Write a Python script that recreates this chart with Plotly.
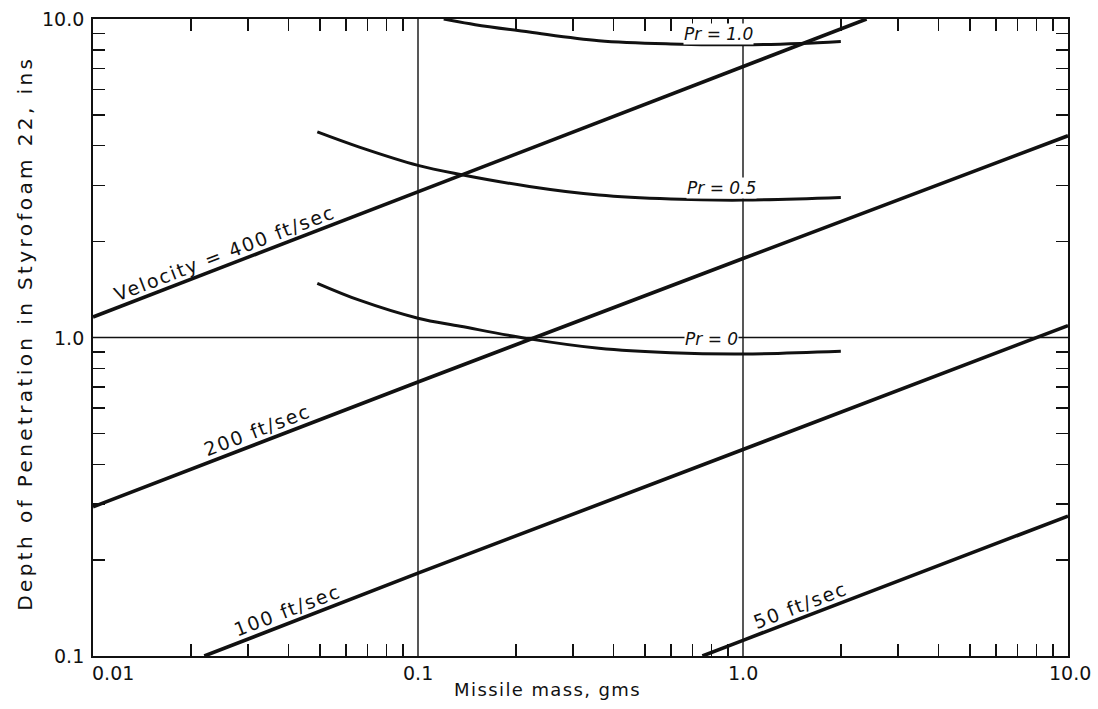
import math
import json
import plotly.graph_objects as go

# ---- data (mass in gms, depth in ins) ----
mass_400 = [0.01, 0.1, 1.0, 2.4]
depth_400 = [1.16, 2.86, 7.1, 10.0]
mass_200 = [0.01, 0.1, 1.0, 10.0]
depth_200 = [0.294, 0.725, 1.77, 4.3]
mass_100 = [0.022, 0.1, 1.0, 10.0]
depth_100 = [0.1, 0.182, 0.445, 1.09]
mass_50 = [0.75, 1.0, 10.0]
depth_50 = [0.1, 0.112, 0.275]

pr0_mass = [0.049, 0.066, 0.1, 0.135, 0.22, 0.36, 0.6, 1.0, 2.0]
pr0_depth = [1.48, 1.31, 1.15, 1.085, 0.99, 0.925, 0.895, 0.887, 0.905]
pr05_mass = [0.049, 0.066, 0.1, 0.135, 0.22, 0.36, 0.6, 1.0, 2.0]
pr05_depth = [4.42, 3.96, 3.47, 3.25, 2.98, 2.8, 2.72, 2.7, 2.75]
pr10_mass = [0.12, 0.15, 0.22, 0.36, 0.6, 1.0, 1.5, 2.0]
pr10_depth = [10.0, 9.6, 9.1, 8.55, 8.35, 8.3, 8.38, 8.5]

vel_labels = ["Velocity = 400 ft/sec", "200 ft/sec", "100 ft/sec", "50 ft/sec"]
vel_label_mass = [0.0262, 0.033, 0.041, 1.55]
pr_labels = ["Pr = 1.0", "Pr = 0.5", "Pr = 0"]
pr_label_mass = [0.843, 0.86, 0.80]
pr_label_shift = [11, 12, 15]

x_tick_vals = [0.01, 0.1, 1.0, 10.0]
x_tick_text = ["0.01", "0.1", "1.0", "10.0"]
y_tick_vals = [0.1, 1.0, 10.0]
y_tick_text = ["0.1", "1.0", "10.0"]
decade_x = [0.1, 1.0]
decade_y = [1.0]

x_title = "Missile mass, gms"
y_title = "Depth of Penetration in Styrofoam 22, ins"

FONT = "DejaVu Sans"

vel_lines = [(mass_400, depth_400), (mass_200, depth_200), (mass_100, depth_100), (mass_50, depth_50)]
pr_lines = [(pr10_mass, pr10_depth), (pr05_mass, pr05_depth), (pr0_mass, pr0_depth)]


def interp_log(xs, ys, x):
    lx = [math.log10(v) for v in xs]
    ly = [math.log10(v) for v in ys]
    t = math.log10(x)
    for i in range(len(lx) - 1):
        if lx[i] <= t <= lx[i + 1] or i == len(lx) - 2:
            f = (t - lx[i]) / (lx[i + 1] - lx[i])
            return ly[i] + f * (ly[i + 1] - ly[i])
    return ly[0]


fig = go.Figure()
for xs, ys in vel_lines:
    fig.add_trace(go.Scatter(x=xs, y=ys, mode="lines",
                             line=dict(color="#111111", width=3.6),
                             showlegend=False, hoverinfo="skip"))
for xs, ys in pr_lines:
    fig.add_trace(go.Scatter(x=xs, y=ys, mode="lines", line_shape="spline",
                             line=dict(color="#111111", width=3),
                             showlegend=False, hoverinfo="skip"))

for v in decade_x:
    fig.add_vline(x=v, line=dict(color="#111111", width=1.4), layer="below")
for v in decade_y:
    fig.add_hline(y=v, line=dict(color="#111111", width=1.4), layer="below")

minor_x = [m * 10 ** e for e in (-2, -1, 0) for m in range(2, 10)]
minor_y = [m * 10 ** e for e in (-1, 0) for m in range(2, 10)]

axis_common = dict(type="log", ticks="inside", ticklen=12, tickwidth=1.4,
                   tickcolor="#111111", showticklabels=False, showgrid=False,
                   showline=True, linewidth=2, linecolor="#111111",
                   mirror="ticks", zeroline=False)
fig.update_xaxes(range=[-2, 1], tickvals=minor_x, **axis_common)
fig.update_yaxes(range=[-1, 1], tickvals=minor_y, **axis_common)

ann = []
for (xs, ys), txt, m in zip(vel_lines, vel_labels, vel_label_mass):
    ann.append(dict(x=math.log10(m), y=interp_log(xs, ys, m), xref="x", yref="y",
                    text=txt, showarrow=False, textangle=-21,
                    xanchor="center", yanchor="middle", xshift=-4.5, yshift=12,
                    font=dict(family=FONT, size=19, color="#111111")))
for (xs, ys), txt, m, s in zip(pr_lines, pr_labels, pr_label_mass, pr_label_shift):
    ann.append(dict(x=math.log10(m), y=interp_log(xs, ys, m), xref="x", yref="y",
                    text="<i>" + txt + "</i>", showarrow=False,
                    xanchor="center", yanchor="middle", yshift=s,
                    bgcolor="white", borderpad=0,
                    font=dict(family=FONT, size=17, color="#111111")))
x_shifts = [20, 0, 0, 2]
for v, t, s in zip(x_tick_vals, x_tick_text, x_shifts):
    ann.append(dict(x=math.log10(v), y=0, xref="x", yref="paper", text=t,
                    showarrow=False, xanchor="center", yanchor="top",
                    xshift=s, yshift=-4,
                    font=dict(family=FONT, size=19, color="#111111")))
for v, t in zip(y_tick_vals, y_tick_text):
    ann.append(dict(x=0, y=math.log10(v), xref="paper", yref="y", text=t,
                    showarrow=False, xanchor="right", yanchor="middle",
                    xshift=-7,
                    font=dict(family=FONT, size=19, color="#111111")))
ann.append(dict(x=0.4665, y=0, xref="paper", yref="paper", text=x_title,
                showarrow=False, xanchor="center", yanchor="middle", yshift=-33,
                font=dict(family=FONT, size=18, color="#111111")))
ann.append(dict(x=0, y=0.507, xref="paper", yref="paper", text=y_title,
                showarrow=False, xanchor="center", yanchor="middle", xshift=-68,
                textangle=-90,
                font=dict(family=FONT, size=20, color="#111111")))

fig.update_layout(
    width=1098, height=709,
    margin=dict(l=93, r=30, t=19, b=53),
    paper_bgcolor="white", plot_bgcolor="white",
    annotations=ann,
    showlegend=False,
    hovermode=False,
)

# wider letter spacing, like the lettering-guide text of the original
spacing = {t: "1.8px" for t in vel_labels}
spacing[y_title] = "3.4px"
spacing[x_title] = "1.4px"

post_js = """
document.body.style.margin = '0';
document.body.style.overflow = 'hidden';
var gd = document.getElementById('{plot_id}');
var spec = %s;
function spaceText() {
  var els = gd.querySelectorAll('text.annotation-text');
  els.forEach(function(t) {
    var s = spec[t.textContent];
    if (s) { t.style.letterSpacing = s; }
  });
}
spaceText();
setTimeout(spaceText, 0);
setTimeout(spaceText, 100);
if (gd.on) { gd.on('plotly_afterplot', spaceText); }
""" % json.dumps(spacing)

fig.write_html("out.html", post_script=post_js,
               config={"displayModeBar": False, "staticPlot": True})
